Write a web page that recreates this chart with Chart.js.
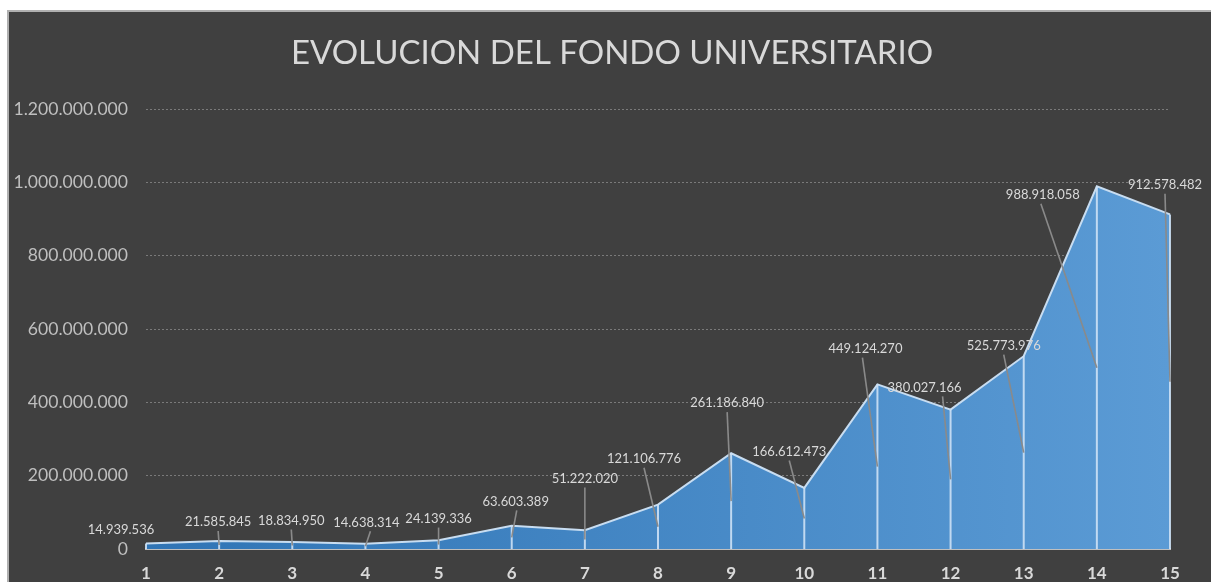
<!DOCTYPE html>
<html lang="es">
<head>
  <meta charset="UTF-8" />
  <title>Evolucion del fondo universitario</title>
  <script src="https://cdn.jsdelivr.net/npm/chart.js"></script>
  <style>
    html, body {
      margin: 0;
      padding: 0;
      background: #ffffff;
      width: 1211px;
      height: 582px;
      overflow: hidden;
    }
    .frame {
      position: absolute;
      left: 7px;
      top: 10px;
      right: -5px;
      bottom: -5px;
      background: #404040;
      border-top: 2px solid #b0b0b0;
      border-left: 2px solid #b0b0b0;
    }
    #fundChart {
      position: absolute;
      left: 0;
      top: 0;
    }
  </style>
</head>
<body>
  <div class="frame"></div>
  <canvas id="fundChart" width="1211" height="582"></canvas>

  <script>
    const categories = ["1", "2", "3", "4", "5", "6", "7", "8", "9", "10", "11", "12", "13", "14", "15"];

    const fundValues = [
      14939536, 21585845, 18834950, 14638314, 24139336,
      63603389, 51222020, 121106776, 261186840, 166612473,
      449124270, 380027166, 525773976, 988918058, 912578482
    ];

    const titleText = "EVOLUCION DEL FONDO UNIVERSITARIO";
    const yMax = 1200000000;
    const yStep = 200000000;

    // where each data label was dragged to, relative to its anchor (px)
    const labelShift = [
      [-25, -16], [-1, -23], [-1, -25], [1, -24], [0, -26],
      [4, -36], [0, -61], [-14, -68], [-4, -98], [-15, -67],
      [-12, -118], [-26, -92], [-20, -107], [-54, -173], [-5, -197]
    ];
    // where the leader line leaves the label, relative to label centre
    const leaderStartX = [0, 0, 0, 4, 0, 1, 0, 0, 0, 0, -3, 18, 0, -2, 0];

    const fmt = (v) => Math.round(v).toString().replace(/\B(?=(\d{3})+(?!\d))/g, ".");

    const titlePlugin = {
      id: "titleText",
      afterDraw(chart) {
        const ctx = chart.ctx;
        ctx.save();
        ctx.font = "33px Lato";
        ctx.fillStyle = "#d9d9d9";
        ctx.textAlign = "center";
        ctx.textBaseline = "middle";
        ctx.fillText(titleText, 612, 53);
        ctx.restore();
      }
    };

    const dropLabels = {
      id: "dropLabels",
      afterDatasetsDraw(chart) {
        const ctx = chart.ctx;
        const meta = chart.getDatasetMeta(0);
        const y = chart.scales.y;
        const base = y.getPixelForValue(0);
        ctx.save();

        // drop lines
        ctx.strokeStyle = "rgba(205, 225, 245, 0.9)";
        ctx.lineWidth = 2;
        meta.data.forEach((pt) => {
          ctx.beginPath();
          ctx.moveTo(pt.x, pt.y);
          ctx.lineTo(pt.x, base);
          ctx.stroke();
        });

        // leader lines + labels
        ctx.font = "13px Lato";
        ctx.textAlign = "center";
        ctx.textBaseline = "middle";
        meta.data.forEach((pt, i) => {
          const ay = y.getPixelForValue(fundValues[i] / 2);
          const lx = pt.x + labelShift[i][0];
          const ly = ay + labelShift[i][1];
          if (Math.abs(labelShift[i][1]) > 18) {
            ctx.strokeStyle = "#8a8a8a";
            ctx.lineWidth = 1.6;
            ctx.beginPath();
            ctx.moveTo(lx + leaderStartX[i], ly + 9);
            ctx.lineTo(pt.x, ay);
            ctx.stroke();
          }
          ctx.fillStyle = "#d9d9d9";
          ctx.fillText(fmt(fundValues[i]), lx, ly);
        });
        ctx.restore();
      }
    };

    const ctx = document.getElementById("fundChart").getContext("2d");
    const chart = new Chart(ctx, {
      type: "line",
      data: {
        labels: categories,
        datasets: [{
          data: fundValues,
          fill: "origin",
          borderColor: "#c8ddf1",
          borderWidth: 2,
          pointRadius: 0,
          tension: 0,
          backgroundColor: (c) => {
            const area = c.chart.chartArea;
            if (!area) return "#4a8bcb";
            const g = c.chart.ctx.createLinearGradient(area.left, 0, area.right, 0);
            g.addColorStop(0, "#2f74b5");
            g.addColorStop(1, "#5b9bd5");
            return g;
          }
        }]
      },
      options: {
        responsive: false,
        animation: false,
        layout: { padding: { top: 109, right: 41, left: 0, bottom: 0 } },
        plugins: {
          legend: { display: false },
          title: { display: false },
          tooltip: { enabled: false }
        },
        scales: {
          x: {
            type: "category",
            offset: false,
            grid: { display: false, drawTicks: false },
            border: { display: true, color: "#bfbfbf", width: 2 },
            ticks: {
              color: "#d9d9d9",
              font: { family: "Lato", size: 17, weight: "bold" },
              padding: 14,
              maxRotation: 0,
              autoSkip: false
            },
            afterFit(scale) { scale.height = 33; }
          },
          y: {
            min: 0,
            max: yMax,
            grid: {
              color: "#7a7a7a",
              lineWidth: 1,
              drawTicks: false
            },
            border: { display: false, dash: [2, 2] },
            ticks: {
              stepSize: yStep,
              color: "#bfbfbf",
              font: { family: "Lato", size: 17.6 },
              padding: 18,
              callback: (v) => fmt(v)
            },
            afterFit(scale) { scale.width = 146; }
          }
        }
      },
      plugins: [dropLabels, titlePlugin]
    });
  </script>
</body>
</html>
